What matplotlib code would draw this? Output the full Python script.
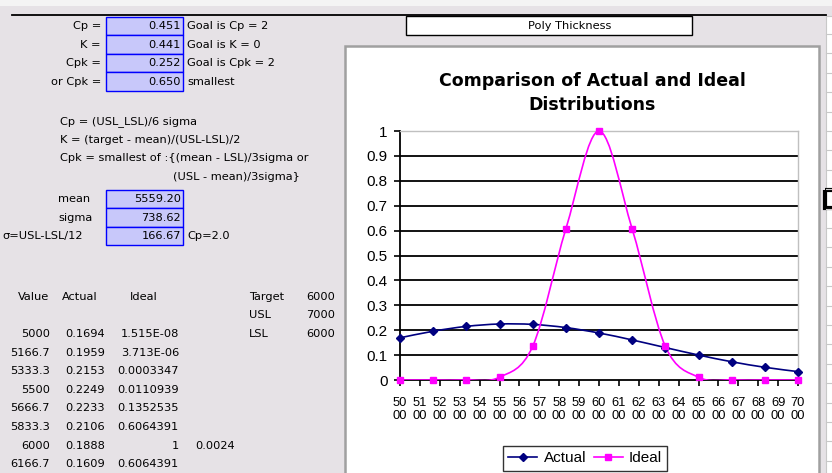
import numpy as np
import matplotlib.pyplot as plt
from matplotlib.path import Path
from matplotlib.patches import PathPatch, Rectangle
from matplotlib.lines import Line2D

plt.rcParams['font.family'] = ['Liberation Sans', 'DejaVu Sans']

# ==== 1. DADOS ====
valores = [5000, 5166.7, 5333.3, 5500, 5666.7, 5833.3, 6000,
           6166.7, 6333.3, 6500, 6666.7, 6833.3, 7000]
actual = [0.1694, 0.1959, 0.2153, 0.2249, 0.2233, 0.2106, 0.1888,
          0.1609, 0.1303, 0.1003, 0.0733, 0.0510, 0.0337]
ideal = [1.515e-08, 3.713e-06, 0.0003347, 0.0110939, 0.1352535, 0.6064391, 1,
         0.6064391, 0.1352535, 0.0110939, 0.0003347, 3.713e-06, 1.515e-08]

# texto da planilha
indices_nomes = ["Cp =", "K =", "Cpk =", "or Cpk ="]
indices_vals = ["0.451", "0.441", "0.252", "0.650"]
indices_obs = ["Goal is Cp = 2", "Goal is K = 0", "Goal is Cpk = 2", "smallest"]
formulas = ["Cp = (USL_LSL)/6 sigma",
            "K = (target - mean)/(USL-LSL)/2",
            "Cpk = smallest of :{(mean - LSL)/3sigma or"]
stats_nomes = ["mean", "sigma", "σ=USL-LSL/12"]
stats_vals = ["5559.20", "738.62", "166.67"]
tab_value = ["5000", "5166.7", "5333.3", "5500", "5666.7", "5833.3", "6000", "6166.7"]
tab_actual = ["0.1694", "0.1959", "0.2153", "0.2249", "0.2233", "0.2106", "0.1888", "0.1609"]
tab_ideal = ["1.515E-08", "3.713E-06", "0.0003347", "0.0110939", "0.1352535",
             "0.6064391", "1", "0.6064391"]
limites_nomes = ["Target", "USL", "LSL"]
limites_vals = ["6000", "7000", "6000"]

FUNDO = '#E6E2E6'
PLAN = dict(fontsize=8.2, family='DejaVu Sans', va='center')


# curva suavizada tipo Excel (Bezier / Catmull-Rom)
def curva_suave(x, y):
    pts = np.column_stack([np.asarray(x, float), np.asarray(y, float)])
    n = len(pts)
    verts = [pts[0]]
    codes = [Path.MOVETO]
    for i in range(n - 1):
        p0 = pts[i - 1] if i > 0 else pts[i]
        p1, p2 = pts[i], pts[i + 1]
        p3 = pts[i + 2] if i + 2 < n else pts[i + 1]
        verts += [p1 + (p2 - p0) / 6, p2 - (p3 - p1) / 6, p2]
        codes += [Path.CURVE4] * 3
    return Path(verts, codes)


fig = plt.figure(figsize=(8.32, 4.73), dpi=100)
fig.patch.set_facecolor(FUNDO)

# ==== 2. FUNDO DA PLANILHA (coordenadas em pixels) ====
bg = fig.add_axes([0, 0, 1, 1])
bg.set_xlim(0, 832)
bg.set_ylim(473, 0)
bg.axis('off')

bg.add_patch(Rectangle((0, 0), 832, 6, facecolor='#F4F4F4', edgecolor='none'))
bg.plot([12, 826], [15, 15], color='black', lw=1.3)
bg.add_patch(Rectangle((826, 16), 10, 460, facecolor='white', edgecolor='#C8C8C8', lw=0.8))
for yl in np.arange(34, 473, 19.4):
    bg.plot([826, 832], [yl, yl], color='#C8C8C8', lw=0.8)
bg.add_patch(Rectangle((825, 190), 12, 18, facecolor='none', edgecolor='black', lw=3))

# caixa "Poly Thickness"
bg.add_patch(Rectangle((406, 16), 286, 19, facecolor='white', edgecolor='black', lw=1))
bg.text(570, 26, "Poly Thickness", ha='center', **PLAN)

# area do grafico
bg.add_patch(Rectangle((345, 46), 474, 440, facecolor='white', edgecolor='#A0A0A0', lw=1.8))

# indices
ys_idx = [26, 44.5, 63, 82]
bordas = [17, 35.5, 54, 72.5, 91]
for i, (nome, val, obs) in enumerate(zip(indices_nomes, indices_vals, indices_obs)):
    bg.add_patch(Rectangle((106, bordas[i]), 77, bordas[i + 1] - bordas[i],
                           facecolor='#C8C8FA', edgecolor='#0000FF', lw=1))
    bg.text(101, ys_idx[i], nome, ha='right', **PLAN)
    bg.text(181, ys_idx[i], val, ha='right', **PLAN)
    bg.text(187, ys_idx[i], obs, ha='left', **PLAN)

for i, f in enumerate(formulas):
    bg.text(60, 122 + 18 * i, f, ha='left', **PLAN)
bg.text(173, 177, "(USL - mean)/3sigma}", ha='left', **PLAN)

ys_st = [199, 217.5, 236]
for i, (nome, val) in enumerate(zip(stats_nomes, stats_vals)):
    bg.add_patch(Rectangle((106, ys_st[i] - 9.2), 77, 18.4,
                           facecolor='#C8C8FA', edgecolor='#0000FF', lw=1))
    bg.text(58 if i < 2 else 2, ys_st[i], nome, ha='left', **PLAN)
    bg.text(181, ys_st[i], val, ha='right', **PLAN)
bg.text(187, 236, "Cp=2.0", ha='left', **PLAN)

# tabela
bg.text(18, 297, "Value", **PLAN)
bg.text(62, 297, "Actual", **PLAN)
bg.text(130, 297, "Ideal", **PLAN)
for i, (nome, val) in enumerate(zip(limites_nomes, limites_vals)):
    bg.text(249, 297 + 18.3 * i, nome, **PLAN)
    bg.text(335, 297 + 18.3 * i, val, ha='right', **PLAN)
for i, (v, a, d) in enumerate(zip(tab_value, tab_actual, tab_ideal)):
    y = 334 + 18.6 * i
    bg.text(50, y, v, ha='right', **PLAN)
    bg.text(105, y, a, ha='right', **PLAN)
    bg.text(179, y, d, ha='right', **PLAN)
bg.text(235, 334 + 18.6 * 6, "0.0024", ha='right', **PLAN)

# titulo
bg.text(592, 81, "Comparison of Actual and Ideal", fontsize=12.5, fontweight='bold',
        family='DejaVu Sans', ha='center', va='center')
bg.text(592, 105, "Distributions", fontsize=12.5, fontweight='bold',
        family='DejaVu Sans', ha='center', va='center')

# ==== 3. GRAFICO ====
ax = fig.add_axes([400 / 832, 93 / 473, 398 / 832, 249 / 473])
ax.set_facecolor('white')
ax.set_xlim(5000, 7000)
ax.set_ylim(0, 1)

yticks = np.round(np.arange(0, 1.01, 0.1), 1)
for yt in yticks[1:-1]:
    ax.axhline(yt, color='black', lw=1.3, zorder=1)

ax.add_patch(PathPatch(curva_suave(valores, actual), fill=False,
                       edgecolor='#000080', lw=1.2, zorder=3))
ax.add_patch(PathPatch(curva_suave(valores, ideal), fill=False,
                       edgecolor='#FF00FF', lw=1.2, zorder=3))
ax.plot(valores, actual, linestyle='none', marker='D', ms=4,
        color='#000080', zorder=4, clip_on=False)
ax.plot(valores, ideal, linestyle='none', marker='s', ms=5,
        color='#FF00FF', zorder=4, clip_on=False)

xticks = np.arange(5000, 7001, 100)
ax.set_xticks(xticks)
ax.set_xticklabels([f"{t // 100}\n00" for t in xticks], fontsize=9.3, linespacing=1.15)
ax.set_yticks(yticks)
ax.set_yticklabels([f"{v:g}" for v in yticks], fontsize=11)
ax.tick_params(direction='out', length=4, width=1.2, color='black')
ax.tick_params(axis='x', pad=8)
ax.tick_params(axis='y', pad=5)

for s in ['left', 'bottom']:
    ax.spines[s].set_color('black')
    ax.spines[s].set_linewidth(1.3)
for s in ['top', 'right']:
    ax.spines[s].set_color('#C0C0C0')
    ax.spines[s].set_linewidth(1)

handles = [Line2D([], [], color='#000080', marker='D', ms=4, lw=1.2),
           Line2D([], [], color='#FF00FF', marker='s', ms=5, lw=1.2)]
leg = fig.legend(handles, ["Actual", "Ideal"], loc='upper left',
                 bbox_to_anchor=(503 / 832, 1 - 446 / 473), ncol=2, fontsize=11,
                 frameon=True, fancybox=False, borderaxespad=0, handlelength=1.9,
                 handletextpad=0.4, columnspacing=0.5, borderpad=0.35)
leg.get_frame().set_edgecolor('black')
leg.get_frame().set_linewidth(1)

plt.savefig("out.png", dpi=100, facecolor=fig.get_facecolor())
